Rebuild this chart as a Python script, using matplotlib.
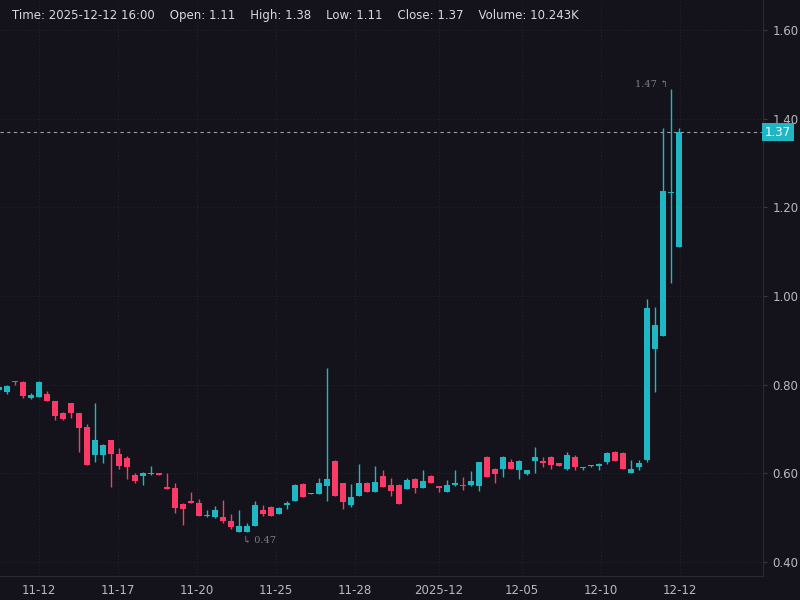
import matplotlib
matplotlib.use('Agg')
import matplotlib.pyplot as plt
import numpy as np

# candle OHLC (12h candles), first one is partly cut off at the left edge
opens = [.788, .783, .808, .806, .770, .772, .779, .763, .736, .758, .736, .704, .641, .641, .675, .644,
         .635, .596, .594, .598, .600, .569, .567, .531, .538, .533, .503, .501, .501, .492, .468, .468,
         .481, .517, .524, .508, .528, .538, .576, .553, .553, .571, .628, .578, .529, .549, .578, .558,
         .594, .574, .574, .565, .587, .567, .594, .569, .558, .574, .572, .574, .571, .637, .610, .610,
         .625, .607, .598, .628, .628, .637, .623, .610, .637, .612, .616, .617, .625, .648, .646, .601,
         .614, .630, .880, .910, 1.232, 1.11]
highs = [.797, .799, .809, .808, .781, .807, .786, .764, .738, .759, .737, .711, .758, .665, .676, .657,
         .639, .601, .602, .617, .601, .601, .578, .532, .558, .542, .517, .526, .540, .508, .517, .488,
         .538, .528, .525, .524, .538, .576, .577, .555, .590, .838, .629, .579, .576, .621, .580, .617,
         .607, .589, .575, .590, .590, .607, .595, .570, .585, .607, .592, .605, .626, .638, .611, .638,
         .632, .629, .608, .659, .637, .638, .624, .648, .640, .615, .618, .623, .648, .649, .647, .630,
         .630, .993, .975, 1.379, 1.467, 1.38]
lows = [.786, .779, .799, .769, .768, .771, .762, .720, .721, .725, .648, .618, .626, .623, .569, .610,
        .587, .578, .574, .597, .595, .564, .510, .483, .532, .503, .501, .500, .488, .474, .468, .468,
        .480, .504, .503, .507, .520, .537, .546, .552, .552, .538, .548, .519, .524, .548, .557, .557,
        .568, .549, .530, .564, .556, .566, .577, .558, .557, .571, .562, .571, .560, .591, .578, .592,
        .609, .587, .597, .601, .614, .610, .616, .607, .607, .607, .615, .607, .620, .627, .609, .600,
        .607, .625, .783, .909, 1.029, 1.11]
closes = [.795, .797, .806, .774, .777, .806, .763, .729, .722, .736, .702, .619, .675, .664, .644, .617,
          .614, .583, .601, .600, .596, .565, .522, .520, .533, .504, .504, .517, .492, .479, .481, .481,
          .528, .508, .504, .522, .533, .574, .547, .554, .578, .587, .549, .535, .547, .578, .558, .580,
          .569, .560, .531, .585, .567, .583, .578, .567, .574, .578, .571, .583, .625, .592, .598, .637,
          .610, .628, .607, .637, .623, .619, .617, .641, .614, .614, .617, .619, .646, .628, .610, .610,
          .623, .973, .935, 1.237, 1.233, 1.37]

tick_pos = [4, 13.9, 23.75, 33.6, 43.5, 54, 64.4, 74.25, 84.1]
tick_labels = ['11-12', '11-17', '11-20', '11-25', '11-28', '2025-12', '12-05', '12-10', '12-12']
y_ticks = [0.40, 0.60, 0.80, 1.00, 1.20, 1.40, 1.60]

BG = '#14131c'
UP = '#1fb7c4'
DOWN = '#fc3a67'
TXT = '#b8bac2'

fig = plt.figure(figsize=(8, 6), dpi=100, facecolor=BG)
ax = fig.add_axes([0, 0.04, 763 / 800, 0.96])
ax.set_facecolor(BG)

x = np.arange(-1, len(opens) - 1)
o = np.array(opens)
c = np.array(closes)
colors = [UP if cc >= oo else DOWN for oo, cc in zip(o, c)]
ax.vlines(x, lows, highs, colors=colors, lw=1, zorder=3)
heights = np.maximum(np.abs(c - o), 0.003)
bottoms = np.minimum(o, c)
ax.bar(x, heights, bottom=bottoms, width=0.85, color=colors, zorder=4)

ax.set_xlim(-0.875, 94.5)
ax.set_ylim(0.368, 1.668)

for t in tick_pos:
    ax.axvline(t, color='#24232e', lw=0.8, ls=(0, (1, 2)), zorder=1)
for t in y_ticks:
    ax.axhline(t, color='#24232e', lw=0.8, ls=(0, (1, 2)), zorder=1)

ax.set_xticks(tick_pos)
ax.set_xticklabels(tick_labels, color=TXT, fontsize=8.5)
ax.yaxis.tick_right()
ax.set_yticks(y_ticks)
ax.set_yticklabels(['%.2f' % v for v in y_ticks], color=TXT, fontsize=8.5)
ax.tick_params(axis='x', length=0, pad=6)
ax.tick_params(axis='y', length=3, color='#3a3a46', pad=4)
for s in ['top', 'left']:
    ax.spines[s].set_visible(False)
ax.spines['right'].set_color('#2a2a36')
ax.spines['bottom'].set_color('#2a2a36')

# last price line
last = closes[-1]
ax.axhline(last, color='#9aa0aa', lw=0.8, ls=(0, (3, 3)), zorder=2)
ax.text(1.002, last, '%.2f' % last, transform=ax.get_yaxis_transform(), color='white',
        fontsize=8.5, va='center', ha='left',
        bbox=dict(boxstyle='square,pad=0.25', fc=UP, ec='none'))

# high/low markers
ih = int(np.argmax(highs))
ax.annotate('%.2f ↰' % highs[ih], (x[ih], highs[ih]), xytext=(-2, 0), textcoords='offset points',
            ha='right', va='bottom', color='#7d7f88', fontsize=7, family='DejaVu Serif')
il = 31
ax.annotate('↳ %.2f' % lows[il], (x[il] - 0.5, lows[il]), xytext=(0, -3), textcoords='offset points',
            ha='left', va='top', color='#7d7f88', fontsize=7, family='DejaVu Serif')

fig.text(12 / 800, 1 - 15 / 600,
         'Time: 2025-12-12 16:00    Open: 1.11    High: 1.38    Low: 1.11    Close: 1.37    Volume: 10.243K',
         color='#d8d9de', fontsize=8.5, va='center', ha='left')

fig.savefig('out.png', dpi=100, facecolor=BG)
